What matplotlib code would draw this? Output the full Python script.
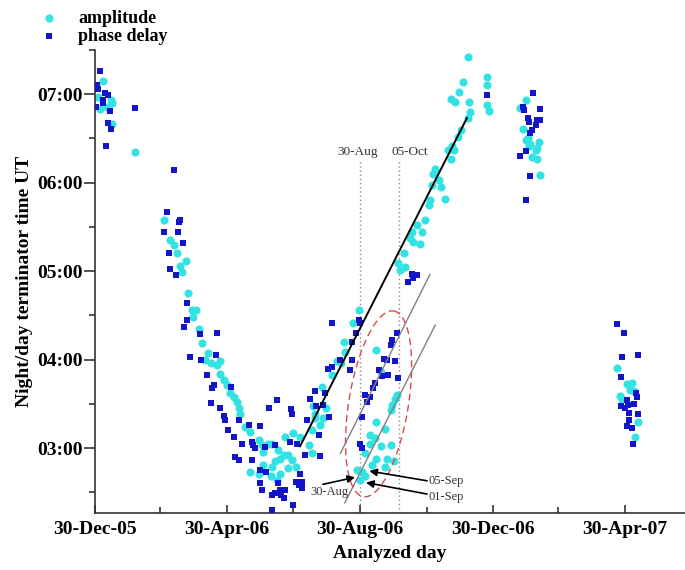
import numpy as np
import matplotlib.pyplot as plt
import matplotlib.dates as mdates
from matplotlib.ticker import FixedLocator, MultipleLocator, FuncFormatter
from datetime import datetime

START = datetime(2005, 12, 30)

# amplitude terminator times (days after 30-Dec-05, hours UT)
amp_day = [7, 3, 16, 5, 16, 37, 15, 11,
           63, 69, 72, 75, 83, 78, 80, 85, 89, 93, 90, 95, 98, 104, 101, 115, 106,
           112, 115, 118, 121, 124, 127, 130, 132, 133, 138, 142, 150, 153, 154, 159, 162,
           168, 174, 182, 173, 177, 181, 170, 165, 162, 154, 142, 150, 161, 170, 177, 167,
           199, 206, 209, 202, 188, 196, 202, 212,
           242, 237, 228, 222, 226, 208, 217, 229, 200, 199, 184,
           258, 262, 277, 275, 272, 271, 258, 266, 252, 257, 252, 262, 271, 248, 258, 268,
           254, 266, 245, 248, 243, 274, 240,
           342, 359, 359, 337, 334, 326, 330, 343, 359, 361, 344, 342, 336, 333, 327, 324,
           329, 326, 312, 310, 315, 309, 317, 321, 307, 306, 303, 295, 291, 300, 289, 292,
           298, 283, 278, 284, 280,
           395, 390, 392, 397, 399, 407, 405, 401, 405, 404, 408, 395, 398,
           479, 488, 492, 481, 483, 498, 495, 494, 491]
amp_time = [7.15, 6.97, 6.90, 6.83, 6.66, 6.35, 6.93, 6.86,
            5.58, 5.35, 5.29, 5.20, 5.12, 5.06, 4.99, 4.75, 4.56, 4.56, 4.48, 4.35, 4.19, 4.07, 3.99, 3.98, 3.96,
            3.94, 3.84, 3.77, 3.71, 3.62, 3.58, 3.52, 3.45, 3.39, 3.24, 3.18, 3.09, 3.03, 2.96, 3.05, 3.05,
            2.98, 3.13, 3.17, 2.92, 2.92, 2.86, 2.88, 2.85, 2.79, 2.81, 2.73, 2.71, 2.68, 2.71, 2.77, 2.64,
            3.20, 3.26, 3.34, 3.34, 3.13, 3.03, 3.39, 3.45,
            4.56, 4.41, 4.20, 3.98, 3.96, 3.69, 3.83, 4.09, 3.47, 2.94, 2.79,
            4.11, 3.86, 3.60, 3.56, 3.49, 3.43, 3.30, 3.22, 3.15, 3.11, 3.05, 3.02, 3.03, 2.94, 2.88, 2.88,
            2.81, 2.79, 2.73, 2.68, 2.64, 2.85, 2.75,
            7.42, 7.20, 7.10, 7.14, 7.02, 6.95, 6.91, 6.91, 6.88, 6.81, 6.80, 6.73, 6.59, 6.52, 6.42, 6.37,
            6.37, 6.27, 6.16, 6.10, 6.03, 5.97, 5.95, 5.81, 5.80, 5.75, 5.58, 5.52, 5.44, 5.44, 5.37, 5.33,
            5.31, 5.20, 5.09, 5.05, 5.01,
            6.93, 6.84, 6.61, 6.50, 6.44, 6.46, 6.39, 6.29, 6.27, 6.37, 6.09, 6.48, 6.42,
            3.90, 3.72, 3.73, 3.59, 3.56, 3.29, 3.13, 3.64, 3.66]

# phase delay terminator times
phase_day = [5, 2, 3, 9, 12, 7, 7, 1, 14, 12, 15, 10, 37, 72,
             66, 78, 77, 63, 76, 81, 68, 69, 74, 84, 84, 82, 96, 112, 87, 97, 111,
             103, 109, 107, 125, 106, 115, 118, 119, 132, 167, 160, 180, 181, 197, 202, 214,
             122, 127, 141, 151, 135, 144, 145, 147, 156, 165, 179, 185, 194, 205,
             128, 132, 144, 151, 157, 193, 206, 188, 151, 153, 168, 170, 165, 162, 171, 174,
             184, 187, 190, 182, 162, 173, 190,
             217, 242, 243, 239, 236, 225, 217, 236, 234, 211, 203, 209, 215,
             277, 272, 271, 265, 268, 275, 260, 263, 269, 278, 257, 255, 248, 252, 249, 245,
             243, 245, 287,
             359, 291, 295, 292,
             402, 392, 393, 408, 397, 398, 405, 408, 404, 401, 399, 395, 390, 399, 395,
             479, 485, 483, 498, 482, 496, 497, 488, 482, 486, 489, 494, 490, 498, 490, 488, 492, 493]
phase_time = [7.26, 7.10, 7.06, 7.01, 6.99, 6.93, 6.90, 6.86, 6.81, 6.68, 6.61, 6.42, 6.84, 6.14,
              5.67, 5.58, 5.55, 5.44, 5.44, 5.32, 5.20, 5.02, 4.96, 4.64, 4.45, 4.37, 4.29, 4.30, 4.03, 4.00, 4.05,
              3.83, 3.71, 3.68, 3.69, 3.51, 3.45, 3.36, 3.32, 3.32, 3.54, 3.45, 3.44, 3.39, 3.56, 3.64, 3.89,
              3.20, 3.13, 3.26, 3.25, 3.05, 3.07, 3.03, 3.00, 3.01, 3.03, 3.07, 3.05, 3.32, 3.15,
              2.90, 2.86, 2.87, 2.75, 2.73, 2.92, 2.91, 2.71, 2.60, 2.53, 2.60, 2.53, 2.49, 2.47, 2.47, 2.53,
              2.62, 2.58, 2.62, 2.36, 2.30, 2.43, 2.55,
              4.41, 4.45, 4.41, 4.30, 4.20, 4.00, 3.92, 3.99, 3.88, 3.62, 3.47, 3.49, 3.35,
              4.30, 4.22, 4.16, 4.01, 3.99, 3.98, 3.88, 3.81, 3.83, 3.79, 3.73, 3.68, 3.60, 3.58, 3.52, 3.35,
              3.05, 3.00, 4.88,
              6.99, 4.97, 4.96, 4.92,
              7.01, 6.86, 6.82, 6.83, 6.73, 6.69, 6.71, 6.71, 6.65, 6.59, 6.56, 6.36, 6.30, 6.07, 5.80,
              4.40, 4.30, 4.03, 4.05, 3.80, 3.62, 3.58, 3.54, 3.47, 3.45, 3.49, 3.50, 3.40, 3.38, 3.32, 3.25, 3.23, 3.05]

# linear trend of the autumn rise and the two shifted copies
fit_day = [188, 341]
fit_time = [3.02, 6.73]
shift_a_day = [225, 307]
shift_a_time = [2.94, 4.96]
shift_b_day = [229, 312]
shift_b_time = [2.38, 4.39]

mark_dates = [datetime(2006, 8, 30), datetime(2006, 10, 5)]
mark_labels = ['30-Aug', '05-Oct']

tick_dates = [datetime(2005, 12, 30), datetime(2006, 4, 30), datetime(2006, 8, 30),
              datetime(2006, 12, 30), datetime(2007, 4, 30)]
minor_dates = [datetime(2006, 2, 28), datetime(2006, 6, 30), datetime(2006, 10, 30),
               datetime(2007, 2, 28)]

CYAN = '#33e3e3'
BLUE = '#1414c8'

plt.rcParams['font.family'] = ['Liberation Serif', 'DejaVu Serif']
plt.rcParams['font.weight'] = 'bold'

t0 = mdates.date2num(START)


def dx(days):
    return t0 + np.asarray(days, dtype=float)


fig = plt.figure(figsize=(6.85, 5.7), dpi=100)
ax = fig.add_axes([95 / 685, 57 / 570, 590 / 685, 463 / 570])

ax.scatter(dx(amp_day), amp_time, s=34, marker='o', color=CYAN, linewidths=0,
           label='amplitude', zorder=2)
ax.scatter(dx(phase_day), phase_time, s=22, marker='s', color=BLUE, linewidths=0,
           label='phase delay', zorder=3)

ax.plot(dx(fit_day), fit_time, color='black', lw=1.4, zorder=4)
ax.plot(dx(shift_a_day), shift_a_time, color='#808080', lw=1.0, zorder=4)
ax.plot(dx(shift_b_day), shift_b_time, color='#808080', lw=1.0, zorder=4)

for d, lab, ha in zip(mark_dates, mark_labels, ('right', 'left')):
    x = mdates.date2num(d)
    ax.plot([x, x], [2.266, 6.25], color='#888888', lw=1.0, ls=(0, (1, 2)), zorder=1)
    shift = 16 if ha == 'right' else -7
    ax.text(x + shift, 6.28, lab, ha=ha, va='bottom', fontsize=9.5, fontweight='normal',
            color='#333333')

# dashed ellipse around the shifted branch
ell_c = (260, 3.50)
ell_major = (13.8, 1.05)
ell_minor = (27.0, -0.05)
tt = np.linspace(0, 2 * np.pi, 200)
ex = ell_c[0] + np.cos(tt) * ell_major[0] + np.sin(tt) * ell_minor[0]
ey = ell_c[1] + np.cos(tt) * ell_major[1] + np.sin(tt) * ell_minor[1]
ax.plot(dx(ex), ey, color='#d84a4a', lw=1.0, ls=(0, (5, 3)), zorder=5)

arrows = [('30-Aug', (209, 2.59), (238.5, 2.67), (215, 2.50), 'center'),
          ('05-Sep', (304.5, 2.63), (251.5, 2.74), (305.5, 2.63), 'left'),
          ('01-Sep', (304.5, 2.48), (248.5, 2.61), (305.5, 2.45), 'left')]
for lab, tail, head, tpos, ha in arrows:
    ax.annotate('', xy=(dx(head[0]), head[1]), xytext=(dx(tail[0]), tail[1]),
                arrowprops=dict(arrowstyle='-|>', color='black', lw=1.2,
                                mutation_scale=11, shrinkA=0, shrinkB=0), zorder=6)
    ax.text(dx(tpos[0]), tpos[1], lab, ha=ha, va='center', fontsize=9,
            fontweight='normal', color='#333333', zorder=6)

ax.set_xlim(dx(0), dx(541))
ax.set_ylim(2.266, 7.5)

ax.xaxis.set_major_locator(FixedLocator(mdates.date2num(tick_dates)))
ax.xaxis.set_minor_locator(FixedLocator(mdates.date2num(minor_dates)))
ax.xaxis.set_major_formatter(mdates.DateFormatter('%d-%b-%y'))
ax.yaxis.set_major_locator(MultipleLocator(1))
ax.yaxis.set_minor_locator(MultipleLocator(0.5))
ax.yaxis.set_major_formatter(FuncFormatter(lambda v, _: f"{int(round(v)):02d}:00"))

ax.tick_params(axis='x', which='both', direction='in', labelsize=14, width=1.2, color='#333333')
ax.tick_params(axis='x', which='major', length=6, pad=6)
ax.tick_params(axis='x', which='minor', length=4)
ax.tick_params(axis='y', which='both', direction='out', labelsize=14, width=1.2, color='#333333')
ax.tick_params(axis='y', which='major', length=8, pad=1)
ax.tick_params(axis='y', which='minor', length=4)

for side in ('top', 'right'):
    ax.spines[side].set_visible(False)
for side in ('left', 'bottom'):
    ax.spines[side].set_linewidth(1.2)
    ax.spines[side].set_color('#333333')

ax.set_xlabel('Analyzed day', fontsize=14, fontweight='bold', labelpad=5)
ax.set_ylabel('Night/day terminator time UT', fontsize=14, fontweight='bold', labelpad=3)

ax.legend(loc='upper left', bbox_to_anchor=(0.035, 0.995), bbox_transform=fig.transFigure,
          frameon=False, fontsize=13, handletextpad=0.6, labelspacing=0.05,
          borderaxespad=0, markerscale=1.0)

fig.savefig('out.png', dpi=100)
